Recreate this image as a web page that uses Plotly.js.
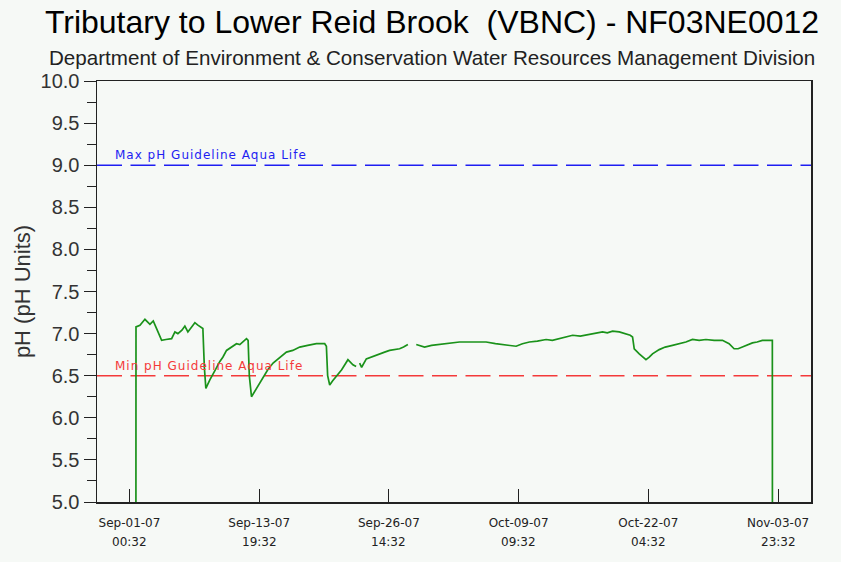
<!DOCTYPE html>
<html>
<head>
<meta charset="utf-8">
<script src="https://cdn.plot.ly/plotly-3.0.1.min.js"></script>
<style>
  html, body { margin: 0; padding: 0; background: #f6f9f6; }
  #chart { width: 841px; height: 562px; }
</style>
</head>
<body>
<div id="chart"></div>
<script>
// ---- Data ----
var chartTitle = "Tributary to Lower Reid Brook  (VBNC) - NF03NE0012";
var chartSubtitle = "Department of Environment & Conservation Water Resources Management Division";
var yTitle = "pH (pH Units)";

var times = [
  "2007-09-01 15:50", "2007-09-01 16:00", "2007-09-02 01:20", "2007-09-02 13:10", "2007-09-03 01:00",
  "2007-09-03 08:50", "2007-09-03 17:30", "2007-09-04 04:40", "2007-09-04 14:50", "2007-09-05 04:20",
  "2007-09-05 12:05", "2007-09-05 19:10", "2007-09-06 04:40", "2007-09-06 11:40", "2007-09-06 18:50",
  "2007-09-07 04:15", "2007-09-07 11:20", "2007-09-07 18:25", "2007-09-07 23:10", "2007-09-08 06:15",
  "2007-09-08 09:45", "2007-09-08 13:20", "2007-09-08 22:45", "2007-09-09 05:50", "2007-09-09 13:00",
  "2007-09-09 22:25", "2007-09-10 05:30", "2007-09-10 14:15", "2007-09-11 00:25", "2007-09-11 13:50",
  "2007-09-11 21:40", "2007-09-12 04:45", "2007-09-12 13:30", "2007-09-12 17:20", "2007-09-12 20:10",
  "2007-09-13 01:20", "2007-09-13 13:10", "2007-09-13 20:55", "2007-09-14 04:45", "2007-09-14 15:50",
  "2007-09-15 04:25", "2007-09-15 20:10", "2007-09-16 12:00", "2007-09-17 02:55", "2007-09-17 19:30",
  "2007-09-18 14:20", "2007-09-19 10:55", "2007-09-20 06:35", "2007-09-20 10:35", "2007-09-20 13:35",
  "2007-09-20 18:25", "2007-09-21 01:30", "2007-09-21 10:10", "2007-09-21 22:45", "2007-09-22 13:35",
  "2007-09-23 01:25", "2007-09-23 09:00", "2007-09-23 13:00", "2007-09-23 17:15", "2007-09-23 22:00",
  "2007-09-24 09:05", "2007-09-25 00:00", "2007-09-25 16:30", "2007-09-26 04:25", "2007-09-26 16:10",
  "2007-09-27 04:00", "2007-09-27 15:50", "2007-09-28 01:15", "2007-09-28 11:25", "2007-09-28 20:10",
  "2007-09-29 07:15", "2007-09-30 02:55", "2007-09-30 19:25", "2007-10-01 14:20", "2007-10-02 14:00",
  "2007-10-03 13:35", "2007-10-04 21:00", "2007-10-06 04:40", "2007-10-07 02:40", "2007-10-08 04:00",
  "2007-10-09 03:35", "2007-10-09 18:30", "2007-10-10 11:05", "2007-10-11 05:55", "2007-10-12 02:30",
  "2007-10-12 17:25", "2007-10-13 09:55", "2007-10-14 00:05", "2007-10-14 17:25", "2007-10-15 11:35",
  "2007-10-16 08:50", "2007-10-16 23:00", "2007-10-17 16:15", "2007-10-18 03:25", "2007-10-18 15:55",
  "2007-10-19 07:45", "2007-10-19 23:35", "2007-10-20 09:40", "2007-10-20 15:10", "2007-10-20 19:10",
  "2007-10-21 07:00", "2007-10-21 14:05", "2007-10-21 22:55", "2007-10-22 06:40", "2007-10-22 14:25",
  "2007-10-23 06:15", "2007-10-23 20:25", "2007-10-24 13:40", "2007-10-25 05:30", "2007-10-25 21:25",
  "2007-10-26 13:00", "2007-10-27 04:50", "2007-10-27 20:40", "2007-10-28 16:20", "2007-10-29 11:55",
  "2007-10-30 03:40", "2007-10-30 15:30", "2007-10-31 01:00", "2007-10-31 11:05", "2007-10-31 22:15",
  "2007-11-01 10:50", "2007-11-01 21:55", "2007-11-02 10:25", "2007-11-03 10:00", "2007-11-03 10:10"
];

var phValues = [
  5.00, 7.08, 7.10, 7.17, 7.11,
  7.15, 7.05, 6.92, 6.93, 6.94,
  7.02, 7.00, 7.04, 7.09, 7.02,
  7.08, 7.13, 7.10, 7.08, 7.06,
  6.60, 6.35, 6.45, 6.51, 6.58,
  6.67, 6.72, 6.80, 6.83, 6.88,
  6.87, 6.90, 6.94, 6.92, 6.50,
  6.25, 6.35, 6.42, 6.49, 6.57,
  6.65, 6.72, 6.78, 6.80, 6.84,
  6.86, 6.88, 6.88, 6.85, 6.50,
  6.39, 6.44, 6.49, 6.57, 6.69,
  6.63, 6.61, null, 6.65, 6.60,
  6.70, 6.73, 6.76, 6.78, 6.80,
  6.81, 6.82, 6.84, 6.87, null,
  6.87, 6.84, 6.86, 6.87, 6.89,
  6.90, 6.90, 6.90, 6.88, 6.86,
  6.85, 6.88, 6.90, 6.91, 6.93,
  6.92, 6.94, 6.96, 6.98, 6.97,
  6.99, 7.00, 7.02, 7.01, 7.03,
  7.02, 7.00, 6.98, 6.96, 6.82,
  6.76, 6.73, 6.69, 6.72, 6.76,
  6.81, 6.84, 6.86, 6.88, 6.90,
  6.93, 6.92, 6.93, 6.92, 6.92,
  6.88, 6.82, 6.82, 6.84, 6.86,
  6.89, 6.90, 6.92, 6.92, 5.00
];

var guideValues = [9.0, 6.5];
var guideLabels = ["Max pH Guideline Aqua Life", "Min pH Guideline Aqua Life"];

var tickDates = ["2007-09-01 00:32", "2007-09-13 19:32", "2007-09-26 14:32",
                 "2007-10-09 09:32", "2007-10-22 04:32", "2007-11-03 23:32"];
var tickDayLabels = ["Sep-01-07", "Sep-13-07", "Sep-26-07", "Oct-09-07", "Oct-22-07", "Nov-03-07"];
var tickTimeLabels = ["00:32", "19:32", "14:32", "09:32", "04:32", "23:32"];

var xRange = ["2007-08-28 19:42", "2007-11-07 05:30"];
var yRange = [5, 10];

// ---- Styles ----
var bg = "#f6f9f6";
var guideColors = ["#1e1ef2", "#f43a3a"];
var tickFont = {family: "DejaVu Sans, Verdana, sans-serif", size: 12, color: "#222"};

var traces = [{
  type: "scatter",
  mode: "lines",
  x: times,
  y: phValues,
  connectgaps: false,
  line: {color: "#1a921a", width: 1.7},
  hoverinfo: "x+y",
  showlegend: false
}];

var shapes = guideValues.map(function (v, i) {
  return {
    type: "line", xref: "paper", x0: 0, x1: 1, yref: "y", y0: v, y1: v,
    line: {color: guideColors[i], width: 1.5, dash: "25px,8.5px"},
    layer: "below"
  };
});

var annotations = [];
guideValues.forEach(function (v, i) {
  annotations.push({
    xref: "paper", x: 0.022, xanchor: "left",
    yref: "y", y: v, yanchor: "bottom", yshift: 1,
    text: '<span style="letter-spacing:1px">' + guideLabels[i] + '</span>', showarrow: false,
    font: {family: "DejaVu Sans, Verdana, sans-serif", size: 12, color: guideColors[i]}
  });
});
tickDates.forEach(function (d, i) {
  annotations.push({
    xref: "x", x: d, xanchor: "center",
    yref: "paper", y: 0, yanchor: "middle", yshift: -40,
    text: tickTimeLabels[i], showarrow: false,
    font: tickFont
  });
});
annotations.push({
  xref: "paper", x: (432 - 97) / 714, xanchor: "center",
  yref: "paper", y: 1, yanchor: "middle", yshift: 81 - 57,
  text: chartSubtitle, showarrow: false,
  font: {family: "Liberation Sans, Arial, sans-serif", size: 20.6, color: "#222"}
});

var layout = {
  width: 841, height: 562,
  margin: {l: 97, r: 30, t: 81, b: 60, pad: 0},
  paper_bgcolor: bg, plot_bgcolor: bg,
  title: {
    text: chartTitle,
    xref: "container", x: 432 / 841, xanchor: "center",
    yref: "container", y: 1 - 22 / 562, yanchor: "middle",
    font: {family: "Liberation Sans, Arial, sans-serif", size: 32, color: "#000"}
  },
  xaxis: {
    type: "date",
    range: xRange,
    tickmode: "array", tickvals: tickDates, ticktext: tickDayLabels,
    ticks: "inside", ticklen: 13, tickwidth: 1, tickcolor: "#222",
    ticklabelstandoff: 9,
    tickfont: tickFont,
    showgrid: false, zeroline: false,
    showline: true, linecolor: "#222", linewidth: 1.5, mirror: true
  },
  yaxis: {
    range: yRange,
    tickmode: "linear", tick0: 5, dtick: 0.5, tickformat: ".1f",
    ticks: "outside", ticklen: 12, tickwidth: 1, tickcolor: "#222",
    minor: {ticks: "outside", ticklen: 9, dtick: 0.25, tick0: 5, tickcolor: "#222", showgrid: false},
    tickfont: {family: "Liberation Sans, Arial, sans-serif", size: 20, color: "#333"},
    title: {text: yTitle, font: {family: "Liberation Sans, Arial, sans-serif", size: 22, color: "#333"}, standoff: 4},
    showgrid: false, zeroline: false,
    showline: true, linecolor: "#222", linewidth: 1.5, mirror: true
  },
  shapes: shapes,
  annotations: annotations,
  showlegend: false
};

Plotly.newPlot("chart", traces, layout, {displayModeBar: false, staticPlot: true});
</script>
</body>
</html>
